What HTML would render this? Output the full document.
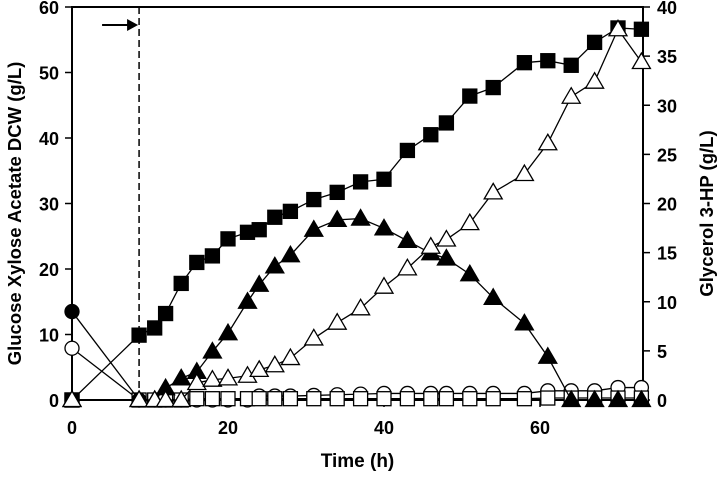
<!DOCTYPE html>
<html><head><meta charset="utf-8"><style>
body{margin:0;background:#fff;}
svg text{font-family:"Liberation Sans",Arial,sans-serif;font-weight:bold;fill:#000;}
</style></head><body>
<svg id="chart" width="720" height="475" viewBox="0 0 720 475" xmlns="http://www.w3.org/2000/svg"></svg>
<script>
const times=[0,8.6,10.6,12,14,16,18,20,22.5,24,26,28,31,34,37,40,43,46,48,51,54,58,61,64,67,70,73];
const dcw=[0,9.9,11,13.2,17.8,21,22,24.6,25.6,26,27.9,28.8,30.6,31.7,33.3,33.7,38.1,40.5,42.3,46.4,47.7,51.5,51.8,51.1,54.6,56.8,56.6];
const acetate=[0,0,0,1.8,3.3,4.3,7.4,10.2,15,17.6,20.4,22.1,26,27.5,27.7,26.2,24.3,22.4,21.6,19.2,15.6,11.7,6.6,0,0,0,0];
const hp=[0,0,0,0,0,2.6,3.1,3.3,3.7,4.6,5.3,6.4,9.4,11.8,14,17.3,20.1,23.4,24.5,27,31.7,34.5,39.2,46.3,48.6,56.6,51.6];
const glycerol=[7.9,0,0,0,0,0,0,0,0,0.6,0.6,0.6,0.7,0.8,0.9,1,1,1,1,1,1,1,1.4,1.4,1.4,1.9,1.9];
const xylose=[0,0,0,0,0,0.2,0.2,0.2,0.2,0.2,0.2,0.2,0.2,0.2,0.2,0.2,0.2,0.2,0.2,0.2,0.2,0.2,0.3,0.3,0.3,0.3,0.3];
const glucoseT=[0,8.6];
const glucose=[13.5,0];
const xTicks=[0,20,40,60];
const yTicks=[0,10,20,30,40,50,60];
const y2Ticks=[0,5,10,15,20,25,30,35,40];
const feedTime=8.6;

const svg=document.getElementById('chart');
const NS='http://www.w3.org/2000/svg';
const L=72,R=643,T=7,B=400;
const X=t=>L+t*7.8;
const Y=v=>B-(v/60)*(B-T);
const Y2=v=>B-(v/40)*(B-T);
function el(tag,attrs,parent){const e=document.createElementNS(NS,tag);for(const k in attrs)e.setAttribute(k,attrs[k]);(parent||svg).appendChild(e);return e;}

const frame=el('path',{d:`M${L},${T}H${R}V${B}H${L}Z`,fill:'none',stroke:'#000','stroke-width':2});



xTicks.forEach(t=>{
  const tk=el('line',{x1:X(t),x2:X(t),y1:B,y2:B+7,stroke:'#000','stroke-width':1.5});
  
  
  const tx=el('text',{x:X(t),y:B+34,'text-anchor':'middle','font-size':18});
  tx.textContent=t;
  
  
});
yTicks.forEach(v=>{
  const tk=el('line',{x1:L-7,x2:L,y1:Y(v),y2:Y(v),stroke:'#000','stroke-width':1.5});
  
  
  const tx=el('text',{x:L-13,y:Y(v)+7,'text-anchor':'end','font-size':18});
  tx.textContent=v;
  
  
});
y2Ticks.forEach(v=>{
  const tk=el('line',{x1:R,x2:R+7,y1:Y2(v),y2:Y2(v),stroke:'#000','stroke-width':1.5});
  
  
  const tx=el('text',{x:R+14,y:Y2(v)+7,'text-anchor':'start','font-size':18});
  tx.textContent=v;
  
  
});

const dl=el('line',{x1:X(feedTime),x2:X(feedTime),y1:T,y2:B,stroke:'#000','stroke-width':1.5,'stroke-dasharray':'7,4'});


const ar=el('line',{x1:X(feedTime)-37,x2:X(feedTime)-8,y1:25,y2:25,stroke:'#000','stroke-width':2});


const ah=el('path',{d:`M${X(feedTime)-1},25 l-11,-6 v12 z`,fill:'#000'});



function series(name,ts,vals,shape,fill){
  const g=el('g',{});
  
  
  const pts=ts.map((t,i)=>X(t)+','+Y(vals[i])).join(' ');
  const ln=el('polyline',{points:pts,fill:'none',stroke:'#000','stroke-width':1.3},g);
  
  
  ts.forEach((t,i)=>{
    const x=X(t),y=Y(vals[i]);let m;
    if(shape==='sq')m=el('rect',{x:x-7,y:y-7,width:14,height:14,fill:fill,stroke:'#000','stroke-width':1.3},g);
    else if(shape==='tri')m=el('path',{d:`M${x},${y-9}L${x+9},${y+6.5}L${x-9},${y+6.5}Z`,fill:fill,stroke:'#000','stroke-width':1.3},g);
    else m=el('circle',{cx:x,cy:y,r:7,fill:fill,stroke:'#000','stroke-width':1.3},g);
    
    
  });
}
series('glycerol',times,glycerol,'circ','#fff');
series('xylose',times,xylose,'sq','#fff');
series('glucose',glucoseT,glucose,'circ','#000');
series('dcw',times,dcw,'sq','#000');
series('acetate',times,acetate,'tri','#000');
series('3hp',times,hp,'tri','#fff');

const xt=el('text',{x:(L+R)/2,y:467,'text-anchor':'middle','font-size':19});
xt.textContent='Time (h)';


const yt=el('text',{x:0,y:0,'text-anchor':'middle','font-size':18.5,transform:`translate(21,${(T+B)/2+10}) rotate(-90)`});
yt.textContent='Glucose Xylose Acetate DCW (g/L)';


const y2t=el('text',{x:0,y:0,'text-anchor':'middle','font-size':18.5,transform:`translate(713,${(T+B)/2+10}) rotate(-90)`});
y2t.textContent='Glycerol 3-HP (g/L)';


</script>
</body></html>
